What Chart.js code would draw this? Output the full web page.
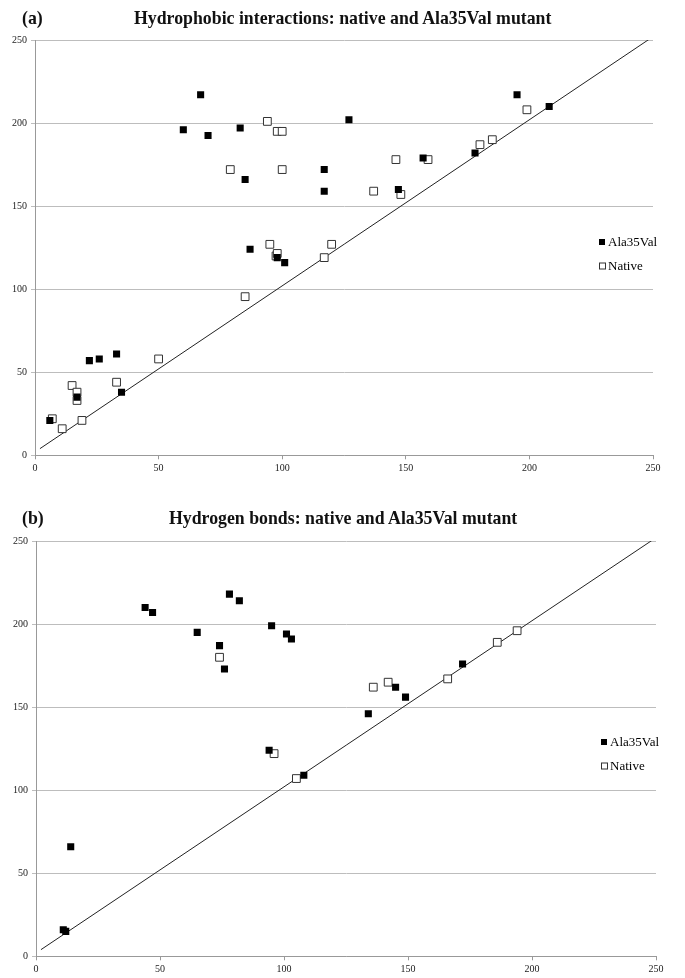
<!DOCTYPE html>
<html>
<head>
<meta charset="utf-8">
<script src="https://cdn.jsdelivr.net/npm/chart.js@4.4.1/dist/chart.umd.min.js"></script>
<style>
  body { margin: 0; background: #fff; width: 685px; height: 978px; position: relative; overflow: hidden; font-family: "Liberation Serif", serif; }
  canvas { position: absolute; left: 0; }
  .lbl { position: absolute; font-weight: bold; color: #111; white-space: nowrap; font-size: 17.8px; line-height: 18px; }
</style>
</head>
<body>
<canvas id="chartA" width="685" height="480" style="top:0"></canvas>
<canvas id="chartB" width="685" height="478" style="top:500px"></canvas>
<div class="lbl" style="left:22px;top:9px">(a)</div>
<div class="lbl" style="left:134px;top:9px">Hydrophobic interactions: native and Ala35Val mutant</div>
<div class="lbl" style="left:22px;top:509px">(b)</div>
<div class="lbl" style="left:169px;top:509px">Hydrogen bonds: native and Ala35Val mutant</div>
<script>
// (a) hydrophobic interactions, [native, mutant]
const hydroMutant = [
  [60, 196], [67, 217], [70, 192.5], [83, 197], [85, 166], [117, 172], [117, 159],
  [127, 202], [195, 217], [208, 210], [178, 182], [157, 179], [147, 160], [87, 124],
  [98, 119], [101, 116], [22, 57], [26, 58], [33, 61], [35, 38], [17, 35], [6, 21]
];
const hydroNative = [
  [94, 201], [98, 195], [100, 195], [79, 172], [100, 172], [95, 127], [120, 127],
  [199, 208], [180, 187], [185, 190], [146, 178], [159, 178], [137, 159], [148, 157],
  [97.5, 120], [98, 121.5], [117, 119], [85, 95.5], [50, 58], [15, 42], [17, 38],
  [17, 33], [33, 44], [7, 22], [11, 16], [19, 21]
];

// (b) hydrogen bonds
const hbondMutant = [
  [44, 210], [47, 207], [65, 195], [74, 187], [76, 173], [78, 218], [82, 214],
  [95, 199], [101, 194], [103, 191], [172, 176], [145, 162], [149, 156], [134, 146],
  [94, 124], [108, 109], [14, 66], [11, 16], [12, 15]
];
const hbondNative = [
  [74, 180], [194, 196], [186, 189], [166, 167], [136, 162], [142, 165], [96, 122], [105, 107]
];

const diagonal = [[2, 4], [250, 252]];
const axisMin = 0, axisMax = 250, axisStep = 50;
const seriesNames = ["Ala35Val", "Native"];

const toPts = (arr) => arr.map(([x, y]) => ({ x, y }));
const tickFont = { family: "Liberation Serif", size: 10 };

// small legend drawn inside the plot, right side
const sideLegend = {
  id: "sideLegend",
  afterDraw(chart, args, o) {
    const ctx = chart.ctx;
    ctx.save();
    ctx.font = '13px "Liberation Serif"';
    ctx.textBaseline = "middle";
    chart.data.datasets.slice(0, 2).forEach((ds, i) => {
      const y = o.y + i * o.gap;
      ctx.fillStyle = ds.backgroundColor;
      ctx.fillRect(o.x - 3, y - 3, 6, 6);
      if (ds.borderWidth) {
        ctx.strokeStyle = ds.borderColor;
        ctx.lineWidth = 1;
        ctx.strokeRect(o.x - 2.5, y - 2.5, 6, 6);
      }
      ctx.fillStyle = "#000";
      ctx.fillText(ds.label, o.x + 6, y + 1);
    });
    ctx.restore();
  }
};

function makeChart(id, mutant, native, box) {
  return new Chart(document.getElementById(id), {
    type: "scatter",
    data: {
      datasets: [
        { label: seriesNames[0], data: toPts(mutant), pointStyle: "rect", pointRadius: 5,
          backgroundColor: "#000", borderColor: "#000", borderWidth: 0 },
        { label: seriesNames[1], data: toPts(native), pointStyle: "rect", pointRadius: 5.5,
          backgroundColor: "#fff", borderColor: "#333", borderWidth: 1 },
        { label: "y = x", type: "line", data: toPts(diagonal), showLine: true, pointRadius: 0,
          borderColor: "#222", borderWidth: 1, fill: false }
      ]
    },
    options: {
      responsive: false,
      animation: false,
      layout: { padding: { top: box.top, right: box.right, left: 0, bottom: 0 } },
      plugins: {
        legend: { display: false },
        tooltip: { enabled: false },
        sideLegend: { x: box.legendX, y: 242, gap: 23.5 }
      },
      scales: {
        x: {
          type: "linear", min: axisMin, max: axisMax,
          ticks: { stepSize: axisStep, font: tickFont, color: "#222", padding: 3, maxRotation: 0 },
          grid: { drawOnChartArea: false, drawTicks: true, tickLength: 4, color: "#999" },
          border: { color: "#999" },
          afterFit(s) { s.height = box.xh; }
        },
        y: {
          type: "linear", min: axisMin, max: axisMax,
          ticks: { stepSize: axisStep, font: tickFont, color: "#222", padding: 4 },
          grid: { color: "#bdbdbd", tickLength: 4 },
          border: { color: "#999" },
          afterFit(s) { s.width = box.yw; }
        }
      }
    },
    plugins: [sideLegend]
  });
}

makeChart("chartA", hydroMutant, hydroNative, { top: 40, right: 32, yw: 35, xh: 24.7, legendX: 602 });
makeChart("chartB", hbondMutant, hbondNative, { top: 41, right: 29, yw: 36, xh: 21.7, legendX: 604 });
</script>
</body>
</html>
